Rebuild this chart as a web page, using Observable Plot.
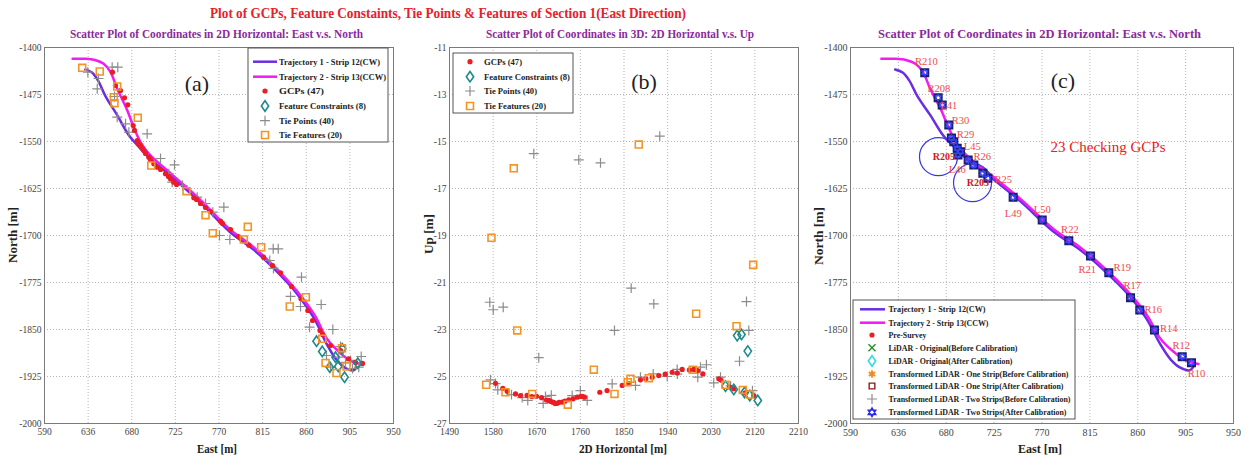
<!DOCTYPE html>
<html><head><meta charset="utf-8">
<script src="https://cdn.jsdelivr.net/npm/d3@7"></script>
<script src="https://cdn.jsdelivr.net/npm/@observablehq/plot@0.6"></script>
<style>
body{margin:0;background:#fff;}
#wrap{position:relative;width:1241px;height:457px;overflow:hidden;background:#fff;}
#wrap > svg{position:absolute;top:0;}
</style></head><body><div id="wrap"></div>
<script>
// ---------- tick definitions ----------
const xTicksEN = [590,635,680,725,770,815,860,905,950];
const xTickLabelsEN = ["590","636","680","725","770","815","860","905","950"];
const yTicksN = [-2000,-1925,-1850,-1775,-1700,-1625,-1550,-1475,-1400];
const xTicksH = [1490,1580,1670,1760,1850,1940,2030,2120,2210];
const yTicksU = [-27,-25,-23,-21,-19,-17,-15,-13,-11];

// ---------- trajectories (East, North) ----------
const traj1 = [[632,-1435],[639,-1440],[645,-1452],[653,-1478],[665,-1508],[677,-1540],[687,-1558],[698,-1576],[721,-1606],[750,-1646],[781,-1694],[806,-1723],[828,-1755],[850,-1792],[868,-1832],[881,-1873],[891,-1898],[900,-1911],[909,-1915],[912,-1910]];
const traj2 = [[619,-1418],[632,-1418],[642,-1420],[651,-1426],[658,-1439],[665,-1466],[675,-1499],[682,-1527],[689,-1551],[698,-1570],[721,-1602],[750,-1642],[781,-1690],[806,-1719],[828,-1751],[850,-1788],[869,-1828],[881,-1864],[894,-1886],[906,-1900],[917,-1905]];

// ---------- panel (a): East vs North ----------
const gcpsA = [[660.1,-1439.4],[663.2,-1460.6],[672.5,-1480.3],[675.9,-1491.4],[681.5,-1524.5],[682.8,-1532.4],[685.6,-1548.4],[687,-1553.2],[689,-1556.4],[691.1,-1561.2],[692.4,-1564.4],[694.2,-1569.1],[697.6,-1575],[699.3,-1578.7],[702.8,-1585.6],[706.3,-1591],[709.7,-1594.7],[714.8,-1601.5],[717.9,-1605.8],[720,-1609.5],[723.4,-1614.9],[726.2,-1618.6],[744,-1639.8],[746.8,-1642.5],[771.6,-1677.2],[773.6,-1680.8],[800.8,-1715.5],[815.9,-1734.6],[833.5,-1759.5],[844.8,-1781.4],[854.6,-1801],[861.6,-1819.7],[874.2,-1851.6],[876.8,-1858],[903.6,-1896.7],[918,-1904.2],[910.8,-1902.6],[895.4,-1883.5],[885,-1875.5],[750.9,-1648.9],[781.9,-1690.4],[756.1,-1655.3],[761.2,-1661.7],[790.1,-1701.6],[825.2,-1747.9],[866.5,-1835.6],[668.4,-1468.6]];
const featConsA = [[870.6,-1868.7],[876.5,-1885.1],[884.3,-1910.1],[893,-1909],[899.5,-1926.1],[913.2,-1903.8],[897.1,-1880.8],[890.2,-1894.2]];
const tiePtsA = [[634.7,-1439.4],[644.4,-1465.9],[659.8,-1431.4],[665.6,-1431.4],[665,-1511.2],[673.6,-1521.8],[677,-1535.2],[695.9,-1537.7],[724.1,-1587.2],[718.2,-1601.5],[721.7,-1614.9],[747.5,-1638.9],[763.6,-1662.8],[775,-1654.8],[770.5,-1700],[781.2,-1706.4],[825.9,-1721.2],[831.1,-1721.2],[822.4,-1739.9],[826.2,-1752.6],[855.1,-1766.5],[854.1,-1813.3],[875.4,-1810.1],[863.4,-1846.3],[887.4,-1850],[893.6,-1894.2],[885,-1910.1],[916.7,-1893.1],[914.2,-1910.1],[900.5,-1902.6],[645.7,-1449.5],[662.2,-1478.2],[709.7,-1577.1],[732.4,-1620.2],[756.1,-1648.9],[843.8,-1797.3],[895.4,-1877.1],[905.7,-1899.4],[880.9,-1891.5],[907.7,-1912.2]];
const tieFeatA = [[628.9,-1432.4],[647,-1438.3],[665,-1462.2],[661.5,-1479.3],[662.2,-1488.9],[686.2,-1512.2],[700.1,-1588.3],[736.5,-1629.3],[756.1,-1667.6],[763.6,-1696.3],[799.7,-1686.1],[795.6,-1706.4],[813.5,-1718.7],[843,-1813.3],[859.6,-1798.4],[876.5,-1864.8],[896.9,-1879.8],[879.9,-1903.4],[891.2,-1919.4],[901.5,-1909]];

// ---------- panel (b): 2D Horizontal vs Up ----------
const gcpsB = [[1584.9,-25.29],[1609,-25.63],[1626.2,-25.74],[1636.5,-25.81],[1669.5,-25.84],[1694.9,-26.02],[1701.9,-26.09],[1712.2,-26.14],[1722.5,-26.09],[1736.1,-25.99],[1753.4,-25.88],[1763.8,-25.84],[1768.5,-25.88],[1800.1,-25.67],[1846.3,-25.38],[1884,-25.14],[1908.2,-25.03],[1921.8,-24.96],[1949.4,-24.82],[1970,-24.7],[1994,-24.7],[2012.6,-24.89],[2045.6,-25.1],[2076.5,-25.52],[2117.8,-25.81],[1680,-25.9],[1690,-26.0],[1698,-26.05],[1705,-26.1],[1708,-26.15],[1716,-26.1],[1728,-26.05],[1745,-25.95],[1760,-25.85],[1650,-25.8],[1660,-25.85],[1600,-25.5],[1815,-25.6],[1860,-25.3],[1895,-25.1],[1935,-24.9],[1960,-24.85],[1985,-24.72],[2002,-24.75],[2050,-25.15],[2068,-25.45],[2100,-25.7]];
const featConsB = [[2083.5,-23.26],[2092.4,-23.21],[2105.4,-23.92],[2059.4,-25.41],[2076.5,-25.55],[2109.5,-25.81],[2126,-26.02],[2098.6,-25.68]];
const tiePtsB = [[1663.9,-15.52],[1756.7,-15.78],[1801.5,-15.91],[1923.8,-14.77],[1573.1,-21.84],[1580.2,-22.16],[1600.8,-22.05],[1674.2,-24.2],[1830.4,-23.04],[1864.8,-21.24],[1911.5,-21.91],[2102.7,-21.81],[2107.5,-23.04],[2088.3,-24.35],[1574.6,-25.14],[1589.6,-25.57],[1617.9,-25.77],[1651.5,-26.02],[1683.3,-26.14],[1688,-25.85],[1743.1,-25.81],[1774.1,-26.02],[1825.6,-25.31],[1873.7,-25.38],[1884,-25.03],[1910.2,-24.89],[1939.1,-25.0],[1959.7,-24.7],[2007.8,-24.6],[2002.2,-25.03],[2035.2,-25.27],[2049.1,-25.03],[1585,-25.3],[1640,-25.9],[1700,-25.8],[1760,-25.6],[1960,-24.9],[2020,-24.5],[2070,-25.4],[2115,-25.6]];
const tieFeatB = [[1622.6,-16.14],[1880.5,-15.13],[1576.6,-19.1],[1629.7,-23.04],[2116.5,-20.25],[1998.9,-22.33],[2082.1,-22.86],[1787.7,-24.71],[1991.9,-24.71],[1565.7,-25.35],[1605.5,-25.67],[1660.6,-25.74],[1734,-26.2],[1830.4,-25.74],[1863.4,-25.1],[1857.8,-25.24],[1901.1,-25.07],[2059.4,-25.35],[2095.1,-25.57],[2109.5,-25.77]];

// ---------- panel (c): 23 checking GCPs ----------
const checkGCPs = [[659.8,-1440.2],[672.4,-1480.1],[676.2,-1491.8],[682.4,-1523.7],[687.1,-1550.3],[690.3,-1560.8],[693.4,-1566.3],[700.6,-1579.5],[705.9,-1587.5],[714.4,-1600.7],[719.1,-1608.7],[742.9,-1639],[770.2,-1675.3],[795.2,-1708.3],[815.6,-1732.7],[832.8,-1759.4],[853.2,-1799.2],[861.9,-1818.9],[875.7,-1850.8],[901.8,-1893.4],[910.5,-1903],[684.9,-1544.4],[691,-1571.5]];
const gcpLabels = ["R210","R208","L41","R30","R29","L45","R26","L46","R25","L49","L50","R22","R21","R19","R17","R16","R14","R12","R10"];
const gcpLabelPos = [[661.4,-1422.7],[673,-1465.1],[682.4,-1493.3],[693.4,-1516.8],[698.1,-1539.6],[704.4,-1558.3],[713.8,-1574.2],[690.3,-1595.5],[733.5,-1611.4],[742.9,-1664.6],[770.2,-1658.2],[796.2,-1691.2],[812.5,-1753.9],[845.4,-1750.7],[854.8,-1780.6],[874.5,-1817.8],[889.2,-1848.1],[900.8,-1876.3],[915.2,-1919.9]];
const circledLabels = ["R205","R203"];
const circledPos = [[672.7,-1574.2],[704.7,-1615.7]];
const noteText = "23 Checking GCPs";
const notePos = [778,-1558.8];

// ---------- colours ----------
const C = {traj1:"#6a2de2", traj2:"#f01cf0", gcp:"#ec1c24", feat:"#1d8a8c", tieP:"#8c8c8c", tieF:"#f39424",
  navy:"#1d1d6e", hexa:"#3344ff", lab:"#ee4a4a", circ:"#3b3bdc", title:"#e8202a", sub:"#8b2a9b"};

// custom symbols
const diamondTall = {draw(c, s){ const h = Math.sqrt(s)*0.82, w = h*0.7; c.moveTo(0,-h); c.lineTo(w,0); c.lineTo(0,h); c.lineTo(-w,0); c.closePath(); }};
const hexagram = {draw(c, s){ const r = Math.sqrt(s)*0.62; for (let k=0;k<2;k++){ const a0 = k? Math.PI/2 : -Math.PI/2; for(let j=0;j<3;j++){ const a=a0+j*2*Math.PI/3; const px=r*Math.cos(a), py=r*Math.sin(a); j? c.lineTo(px,py): c.moveTo(px,py);} c.closePath(); } }};

const toObj = arr => arr.map(d => ({x:d[0], y:d[1]}));
const fmtMap = new Map(xTicksEN.map((t,i)=>[t, xTickLabelsEN[i]]));

function baseOpts(w, ml, mr, xDomain, xTicks, xFmt, yDomain, yTicks, fs){
  return {
    width:w, height:457, marginLeft:ml, marginRight:mr, marginTop:47, marginBottom:34,
    x:{domain:xDomain, ticks:xTicks, tickFormat:xFmt, tickSize:0, tickPadding:5, label:null},
    y:{domain:yDomain, ticks:yTicks, tickFormat:d=>String(d), tickSize:0, tickPadding:3, label:null},
    style:{fontFamily:"'Liberation Serif', serif", fontSize:fs, color:"#444", background:"transparent", overflow:"visible"}
  };
}
const gridMarks = (xt, yt) => [
  Plot.gridX(xt, {stroke:"#b4b4b4", strokeOpacity:1, strokeDasharray:"1,2"}),
  Plot.gridY(yt, {stroke:"#b4b4b4", strokeOpacity:1, strokeDasharray:"1,2"}),
  Plot.frame({stroke:"#7a7a7a"})
];
const trajMarks = () => [
  Plot.line(toObj(traj1), {x:"x", y:"y", stroke:C.traj1, strokeWidth:2.5, curve:"catmull-rom"}),
  Plot.line(toObj(traj2), {x:"x", y:"y", stroke:C.traj2, strokeWidth:2.5, curve:"catmull-rom"})
];
const pointMarks = (tp, g, fc, tf) => [
  Plot.dot(toObj(tp), {x:"x", y:"y", symbol:"plus", r:3.3, stroke:C.tieP, strokeWidth:1.2}),
  Plot.dot(toObj(g), {x:"x", y:"y", r:2.6, fill:C.gcp, stroke:"none"}),
  Plot.dot(toObj(fc), {x:"x", y:"y", symbol:diamondTall, r:3.6, stroke:C.feat, strokeWidth:1.6, fill:"none"}),
  Plot.dot(toObj(tf), {x:"x", y:"y", symbol:"square2", r:4.4, stroke:C.tieF, strokeWidth:1.6, fill:"none"})
];

const wrap = document.getElementById("wrap");

// panel (a)
const pa = Plot.plot({...baseOpts(405, 44, 12, [590,950], xTicksEN, d=>fmtMap.get(d), [-2000,-1400], yTicksN, "9.5px"),
  marks:[...gridMarks(xTicksEN, yTicksN), ...trajMarks(), ...pointMarks(tiePtsA, gcpsA, featConsA, tieFeatA)]});
pa.style.left = "0px"; wrap.appendChild(pa);

// panel (b)
const pb = Plot.plot({...baseOpts(410, 44, 17, [1490,2210], xTicksH, d=>String(d), [-27,-11], yTicksU, "9.5px"),
  marks:[...gridMarks(xTicksH, yTicksU), ...pointMarks(tiePtsB, gcpsB, featConsB, tieFeatB)]});
pb.style.left = "405px"; wrap.appendChild(pb);

// panel (c)
const pc = Plot.plot({...baseOpts(426, 35, 8, [590,950], xTicksEN, d=>fmtMap.get(d), [-2000,-1400], yTicksN, "10px"),
  marks:[...gridMarks(xTicksEN, yTicksN), ...trajMarks(),
    Plot.dot(toObj(circledPos), {x:"x", y:"y", r:19, stroke:C.circ, strokeWidth:1.2, fill:"none"}),
    Plot.dot(toObj(checkGCPs), {x:"x", y:"y", symbol:"square2", r:4.3, stroke:C.navy, strokeWidth:2.3, fill:"none"}),
    Plot.dot(toObj(checkGCPs), {x:"x", y:"y", symbol:hexagram, r:3.4, stroke:C.hexa, strokeWidth:1, fill:"none"}),
    Plot.text(gcpLabelPos.map((d,i)=>({x:d[0], y:d[1], t:gcpLabels[i]})), {x:"x", y:"y", text:"t", fill:C.lab, fontSize:10.5, fontFamily:"'Liberation Serif', serif"}),
    Plot.text(circledPos.map((d,i)=>({x:d[0]+5, y:d[1], t:circledLabels[i]})), {x:"x", y:"y", text:"t", fill:"#d41818", fontSize:10, fontWeight:"bold", fontFamily:"'Liberation Serif', serif"}),
    Plot.text([{x:notePos[0], y:notePos[1], t:noteText}], {x:"x", y:"y", text:"t", textAnchor:"start", fill:"#e82020", fontSize:15, fontFamily:"'Liberation Serif', serif"})
  ]});
pc.style.left = "815px"; wrap.appendChild(pc);

// ---------- overlay: titles, axis labels, legends ----------
const ov = d3.select(wrap).append("svg").attr("width",1241).attr("height",457)
  .style("position","absolute").style("left","0px").style("top","0px")
  .attr("font-family","'Liberation Serif', serif");

function txt(x, y, s, o){
  const t = ov.append("text").attr("x",x).attr("y",y).attr("dy","0.35em").text(s)
    .attr("text-anchor", o.anchor||"middle").attr("font-size",o.size).attr("fill",o.fill||"#222")
    .attr("font-weight",o.bold?"bold":"normal");
  if (o.len) t.attr("textLength",o.len).attr("lengthAdjust","spacingAndGlyphs");
  if (o.rot) t.attr("transform",`rotate(-90,${x},${y})`);
  return t;
}
txt(448, 13, "Plot of GCPs, Feature Constaints, Tie Points & Features of Section 1(East Direction)", {size:15, bold:true, fill:C.title, len:476});
txt(216.5, 34, "Scatter Plot of Coordinates in 2D Horizontal: East v.s. North", {size:11.5, bold:true, fill:C.sub, len:293});
txt(620, 34, "Scatter Plot of Coordinates in 3D: 2D Horizontal v.s. Up", {size:11.5, bold:true, fill:C.sub, len:268});
txt(1039.5, 34, "Scatter Plot of Coordinates in 2D Horizontal: East v.s. North", {size:12, bold:true, fill:C.sub, len:323});

txt(197, 83, "(a)", {size:22});
txt(644, 81, "(b)", {size:22});
txt(1063, 80, "(c)", {size:22});

txt(217, 448, "East [m]", {size:13, bold:true, len:40});
txt(12, 235, "North [m]", {size:13, bold:true, len:56, rot:true});
txt(623, 448, "2D Horizontal [m]", {size:13, bold:true, len:88});
txt(428, 234, "Up [m]", {size:13, bold:true, len:40, rot:true});
txt(1040, 448, "East [m]", {size:13.5, bold:true, len:44});
txt(818, 236, "North [m]", {size:13, bold:true, len:58, rot:true});

function symPath(sym, size){ return d3.symbol().type(sym).size(size)(); }
function drawSym(g, kind, x, y){
  const gg = g.append("g").attr("transform",`translate(${x},${y})`);
  if (kind==="gcp") gg.append("circle").attr("r",2.6).attr("fill",C.gcp);
  if (kind==="feat") gg.append("path").attr("d",symPath(diamondTall, Math.PI*3.6*3.6)).attr("fill","none").attr("stroke",C.feat).attr("stroke-width",1.6);
  if (kind==="tieP") gg.append("path").attr("d",symPath(d3.symbolPlus, Math.PI*3.3*3.3)).attr("fill","none").attr("stroke",C.tieP).attr("stroke-width",1.2);
  if (kind==="tieF") gg.append("path").attr("d",symPath(d3.symbolSquare2, Math.PI*4.4*4.4)).attr("fill","none").attr("stroke",C.tieF).attr("stroke-width",1.6);
  if (kind==="x") gg.append("path").attr("d",symPath(d3.symbolTimes, Math.PI*3.3*3.3)).attr("fill","none").attr("stroke","#2b8a2b").attr("stroke-width",1.4);
  if (kind==="cyanD") gg.append("path").attr("d",symPath(diamondTall, Math.PI*3.6*3.6)).attr("fill","none").attr("stroke","#3cd6e6").attr("stroke-width",1.6);
  if (kind==="star") gg.append("path").attr("d",symPath(d3.symbolAsterisk, Math.PI*3.5*3.5)).attr("fill","none").attr("stroke","#f08a20").attr("stroke-width",1.8);
  if (kind==="redSq") gg.append("path").attr("d",symPath(d3.symbolSquare2, Math.PI*3.6*3.6)).attr("fill","none").attr("stroke","#8a1c1c").attr("stroke-width",1.4);
  if (kind==="hexa") gg.append("path").attr("d",symPath(hexagram, Math.PI*4*4)).attr("fill","none").attr("stroke","#2a2ae8").attr("stroke-width",1.4);
}
function legend(box, rows, lineX, symX, textX, items, fs){
  const g = ov.append("g");
  g.append("rect").attr("x",box[0]).attr("y",box[1]).attr("width",box[2]-box[0]).attr("height",box[3]-box[1])
    .attr("fill","#fff").attr("stroke","#555").attr("stroke-width",1);
  items.forEach((it,i)=>{
    const y = rows[i];
    if (it.kind==="line1"||it.kind==="line2") g.append("line").attr("x1",lineX[0]).attr("x2",lineX[1]).attr("y1",y).attr("y2",y)
      .attr("stroke", it.kind==="line1"?C.traj1:C.traj2).attr("stroke-width",2.5);
    else drawSym(g, it.kind, symX, y);
    g.append("text").attr("x",textX).attr("y",y).attr("dy","0.35em").attr("font-size",fs).attr("font-weight","bold").attr("fill","#222")
      .attr("textLength",it.len).attr("lengthAdjust","spacingAndGlyphs").text(it.text);
  });
}
legend([248,48,388,142], [61.7,76.7,91,106,120.7,135], [253,277], 265, 279, [
  {kind:"line1", text:"Trajectory 1 - Strip 12(CW)", len:101},
  {kind:"line2", text:"Trajectory 2 - Strip 13(CCW)", len:107},
  {kind:"gcp", text:"GCPs (47)", len:45},
  {kind:"feat", text:"Feature Constraints (8)", len:87},
  {kind:"tieP", text:"Tie Points (40)", len:55},
  {kind:"tieF", text:"Tie Features (20)", len:63}], 9);
legend([453,53,573,113], [61.7,76.7,91,106], [0,0], 470, 484, [
  {kind:"gcp", text:"GCPs (47)", len:38},
  {kind:"feat", text:"Feature Constraints (8)", len:86},
  {kind:"tieP", text:"Tie Points (40)", len:53},
  {kind:"tieF", text:"Tie Features (20)", len:62}], 9);
legend([853,300,1075,419], [309.3,322.7,335,347.7,361,374,386,399,412.3], [860,885], 872, 888.5, [
  {kind:"line1", text:"Trajectory 1 - Strip 12(CW)", len:97},
  {kind:"line2", text:"Trajectory 2 - Strip 13(CCW)", len:100},
  {kind:"gcp", text:"Pre-Survey", len:38},
  {kind:"x", text:"LiDAR - Original(Before Calibration)", len:129},
  {kind:"cyanD", text:"LiDAR - Original(After Calibration)", len:124},
  {kind:"star", text:"Transformed LiDAR - One Strip(Before Calibration)", len:180},
  {kind:"redSq", text:"Transformed LiDAR - One Strip(After Calibration)", len:175},
  {kind:"tieP", text:"Transformed LiDAR - Two Strips(Before Calibration)", len:182},
  {kind:"hexa", text:"Transformed LiDAR - Two Strips(After Calibration)", len:178}], 9);
</script></body></html>
